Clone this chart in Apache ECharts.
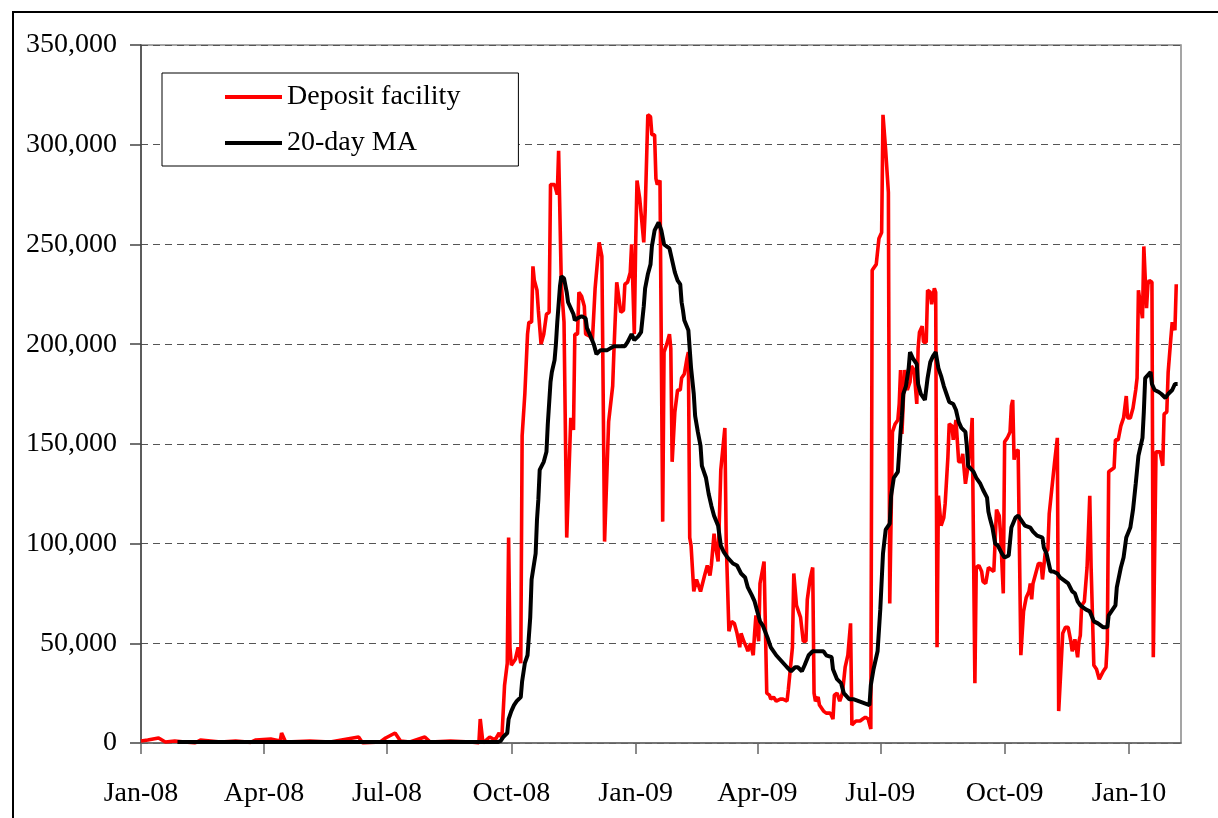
<!DOCTYPE html>
<html>
<head>
<meta charset="utf-8">
<title>Deposit facility</title>
<script src="https://cdn.jsdelivr.net/npm/echarts@6/dist/echarts.min.js"></script>
<style>
  html, body { margin: 0; padding: 0; background: #fff; }
  #chart { width: 1218px; height: 818px; }
</style>
</head>
<body>
<div id="chart"></div>
<script>
// days counted from 1 Jan 2008
const startDate = Date.UTC(2008, 0, 1);
const dayMs = 86400000;

const quarterTicks = ['2008-01-01', '2008-04-01', '2008-07-01', '2008-10-01', '2009-01-01',
    '2009-04-01', '2009-07-01', '2009-10-01', '2010-01-01'];
const quarterLabels = ['Jan-08', 'Apr-08', 'Jul-08', 'Oct-08', 'Jan-09', 'Apr-09', 'Jul-09', 'Oct-09', 'Jan-10'];

const depositDays = [0, 5, 13, 18, 25, 40, 44, 59, 70, 81, 85, 96, 103, 104, 107, 125, 140, 161, 164, 177,
    181, 188, 192, 199, 210, 214, 229, 244, 250, 251, 253, 258, 262, 265, 267,
    269, 271, 272, 273, 274, 277, 279, 281, 282, 284, 286, 287, 289, 290, 291, 293, 294, 296, 298, 300,
    302, 303, 306, 308, 309, 310, 311, 313, 315, 318, 320, 321, 323, 324, 326, 328, 329, 332, 334, 336,
    339, 341, 343, 346, 349, 350, 352, 355, 357, 358, 360, 362, 363, 365, 366, 367, 369, 372, 373, 375,
    377, 378, 380, 381, 382, 384, 386, 387, 389, 391, 392, 393, 395, 397, 399, 400, 402, 404, 405, 406,
    407, 409, 411, 412, 414, 417, 419, 421, 422, 424, 425, 427, 429, 432, 433, 435, 437, 439, 441, 443,
    444, 446, 448, 449, 451, 453, 454, 455, 457, 458, 461, 463, 465, 466, 468, 470, 473, 475, 478, 479,
    482, 483, 485, 488, 490, 492, 493, 495, 497, 498, 499, 501, 502, 505, 507, 510, 512, 513, 515, 517,
    519, 521, 523, 525, 526, 527, 529, 532, 534, 536, 538, 540, 541, 544, 545, 546, 548, 549, 551, 553,
    554, 556, 558, 560, 561, 562, 563, 565, 567, 569, 570, 572, 574, 575, 576, 578, 579, 581, 582, 584,
    585, 587, 588, 589, 590, 592, 594, 595, 597, 598, 600, 601, 603, 605, 607, 608, 610, 612, 614, 615,
    617, 618, 620, 622, 623, 625, 627, 628, 631, 633, 635, 636, 638, 639, 641, 643, 644, 645, 646, 647,
    649, 650, 651, 653, 655, 657, 658, 659, 660, 662, 664, 666, 667, 669, 671, 672, 674, 676, 678, 679,
    681, 682, 684, 686, 688, 689, 691, 693, 694, 695, 696, 698, 700, 702, 703, 705, 707, 709, 710, 712,
    714, 715, 716, 718, 720, 721, 723, 725, 727, 728, 729, 730, 732, 734, 736, 737, 738, 739, 741, 742,
    744, 745, 746, 748, 749, 751, 752, 754, 756, 757, 759, 760, 762, 763, 765, 766];
const depositValues = [1000, 1500, 2500, 500, 1000, 0, 1500, 500, 1000, 300, 1500, 2000, 1000, 5000, 500, 1000, 500, 3000, 0, 500,
    2500, 5000, 1000, 500, 3000, 500, 1000, 500, 0, 12000, 0, 3000, 1500, 5000, 2500,
    29000, 40000, 103000, 48000, 39000, 42000, 48000, 40000, 154000, 175000, 205000, 211000, 211000, 239000, 232000, 227000, 217000, 200000, 205000, 215000,
    216000, 280000, 280000, 275000, 297000, 298000, 230000, 211000, 103000, 163000, 157000, 205000, 205000, 226000, 224000, 219000, 205000, 204000, 202000, 228000,
    251000, 244000, 101000, 161000, 179000, 198000, 231000, 216000, 217000, 230000, 231000, 236000, 250000, 205000, 250000, 282000, 273000, 251000, 266000, 315000,
    314000, 305000, 305000, 283000, 280000, 282000, 111000, 196000, 200000, 205000, 198000, 141000, 166000, 177000, 177000, 183000, 185000, 193000, 196000, 103000,
    99000, 76000, 82000, 83000, 76000, 84000, 89000, 84000, 89000, 105000, 99000, 91000, 137000, 158000, 101000, 56000, 61000, 60000, 55000, 48000,
    55000, 51000, 48000, 46000, 50000, 44000, 55000, 64000, 51000, 80000, 91000, 25000, 24000, 22000, 23000, 21000, 22000, 22000, 21000, 27000,
    48000, 85000, 69000, 63000, 51000, 51000, 72000, 82000, 88000, 25000, 21000, 23000, 19000, 16000, 15000, 15000, 12000, 24000, 25000, 21000,
    25000, 38000, 44000, 60000, 9000, 8000, 11000, 11000, 12000, 13000, 12000, 7000, 237000, 240000, 241000, 253000, 256000, 315000, 297000, 276000,
    70000, 156000, 160000, 162000, 170000, 187000, 155000, 187000, 177000, 181000, 189000, 187000, 170000, 198000, 206000, 209000, 201000, 201000, 227000, 226000,
    220000, 228000, 226000, 48000, 124000, 109000, 113000, 120000, 143000, 160000, 159000, 152000, 162000, 141000, 141000, 145000, 130000, 139000, 152000, 163000,
    30000, 88000, 89000, 86000, 81000, 80000, 88000, 87000, 86000, 117000, 114000, 105000, 75000, 151000, 153000, 156000, 169000, 172000, 142000, 146000,
    147000, 147000, 44000, 66000, 73000, 76000, 80000, 72000, 80000, 85000, 90000, 90000, 82000, 95000, 97000, 115000, 128000, 141000, 153000, 16000,
    42000, 55000, 58000, 58000, 51000, 46000, 52000, 43000, 51000, 54000, 69000, 71000, 88000, 124000, 88000, 39000, 37000, 32000, 32000, 36000,
    38000, 51000, 136000, 137000, 138000, 152000, 152000, 159000, 163000, 163000, 174000, 163000, 163000, 168000, 177000, 183000, 227000, 226000, 213000, 249000,
    218000, 230000, 232000, 231000, 43000, 146000, 146000, 146000, 139000, 165000, 166000, 186000, 203000, 211000, 207000, 230000];

const maDays = [27, 100, 200, 264, 266, 268, 271, 272, 274, 276, 278, 281, 282, 284, 286, 288, 289, 292, 293, 294,
    295, 298, 300, 301, 303, 304, 306, 307, 308, 310, 311, 313, 315, 316, 318, 320, 321, 323, 326, 329,
    330, 332, 335, 337, 340, 345, 350, 358, 360, 363, 365, 368, 370, 372, 373, 375, 377, 378, 380, 383,
    385, 387, 391, 393, 395, 397, 399, 400, 401, 402, 405, 407, 409, 410, 412, 414, 415, 418, 420, 422,
    424, 427, 429, 431, 434, 438, 441, 444, 447, 449, 452, 454, 456, 458, 460, 464, 466, 470, 474, 478,
    481, 484, 486, 489, 491, 494, 497, 501, 505, 507, 511, 512, 515, 518, 520, 524, 527, 531, 535, 539,
    540, 542, 545, 547, 549, 551, 554, 555, 557, 560, 562, 563, 564, 566, 568, 569, 571, 574, 575, 577,
    580, 582, 584, 586, 588, 590, 592, 594, 596, 598, 601, 603, 605, 607, 610, 611, 612, 616, 618, 621,
    623, 626, 627, 628, 630, 632, 634, 637, 639, 642, 644, 647, 649, 652, 654, 658, 660, 663, 667, 668,
    670, 673, 675, 678, 680, 684, 686, 689, 691, 693, 695, 699, 702, 705, 708, 712, 715, 716, 718, 721,
    722, 725, 727, 729, 732, 734, 736, 738, 741, 742, 743, 744, 747, 748, 750, 753, 755, 758, 760, 763,
    765, 767];
const maValues = [500, 500, 500, 500, 1000, 3000, 5000, 12000, 16000, 19000, 21000, 23000, 31000, 40000, 44000, 63000, 82000, 95000, 112000, 122000,
    137000, 141000, 146000, 160000, 181000, 186000, 192000, 200000, 211000, 229000, 234000, 233000, 226000, 221000, 218000, 215000, 212000, 213000, 214000, 213000,
    208000, 205000, 200000, 195000, 197000, 197000, 199000, 199000, 201000, 205000, 202000, 204000, 206000, 219000, 228000, 235000, 240000, 249000, 257000, 261000,
    257000, 250000, 248000, 242000, 236000, 232000, 230000, 221000, 217000, 212000, 207000, 188000, 175000, 164000, 156000, 149000, 139000, 133000, 125000, 119000,
    114000, 109000, 99000, 96000, 93000, 90000, 89000, 85000, 83000, 78000, 74000, 71000, 66000, 61000, 59000, 52000, 48000, 44000, 41000, 38000,
    36000, 38000, 38000, 36000, 39000, 44000, 46000, 46000, 46000, 44000, 43000, 37000, 32000, 30000, 25000, 22000, 22000, 21000, 20000, 19000,
    29000, 37000, 46000, 67000, 95000, 107000, 110000, 124000, 133000, 136000, 156000, 164000, 175000, 179000, 188000, 196000, 193000, 190000, 180000, 175000,
    172000, 183000, 191000, 194000, 196000, 188000, 184000, 179000, 175000, 171000, 170000, 167000, 161000, 158000, 156000, 149000, 139000, 136000, 133000, 130000,
    127000, 123000, 116000, 113000, 108000, 100000, 99000, 95000, 93000, 94000, 108000, 113000, 114000, 111000, 109000, 108000, 106000, 104000, 103000, 98000,
    95000, 86000, 86000, 85000, 83000, 81000, 80000, 76000, 75000, 71000, 69000, 67000, 66000, 61000, 60000, 58000, 58000, 64000, 66000, 69000,
    78000, 88000, 93000, 103000, 108000, 117000, 130000, 144000, 153000, 166000, 183000, 183000, 186000, 180000, 177000, 176000, 175000, 173000, 175000, 177000,
    180000, 180000];

const axisEnd = startDate + 769.5 * dayMs;
const tickTimes = quarterTicks.map(d => Date.parse(d + 'T00:00:00Z'));

function toPoints(days, values) {
    return days.map((d, i) => [startDate + d * dayMs, values[i]]);
}

const font = 'Liberation Serif';
const chart = echarts.init(document.getElementById('chart'), null, { renderer: 'canvas' });

chart.setOption({
    animation: false,
    backgroundColor: '#fff',
    textStyle: { fontFamily: font },
    grid: {
        left: 141, top: 45, right: 37, bottom: 75,
        show: true, borderColor: '#888', borderWidth: 1.5, backgroundColor: 'transparent'
    },
    graphic: [{
        type: 'rect',
        shape: { x: 13, y: 12, width: 1300, height: 900 },
        style: { fill: 'none', stroke: '#000', lineWidth: 2 },
        silent: true
    }],
    legend: {
        orient: 'vertical',
        left: 162, top: 73,
        padding: [10, 58, 9, 63],
        itemGap: 18,
        itemWidth: 57,
        itemHeight: 4,
        icon: 'rect',
        backgroundColor: '#fff',
        borderColor: '#000',
        borderWidth: 1,
        textStyle: { fontFamily: font, fontSize: 28, color: '#000' },
        data: ['Deposit facility', '20-day MA']
    },
    xAxis: {
        type: 'value',
        min: startDate,
        max: axisEnd,
        axisLine: { lineStyle: { color: '#666', width: 1.5 } },
        axisTick: { show: true, customValues: tickTimes, length: 11, inside: false, lineStyle: { color: '#666', width: 1.5 } },
        axisLabel: {
            customValues: tickTimes,
            margin: 37,
            fontFamily: font, fontSize: 28, color: '#000',
            formatter: function (val) {
                const i = tickTimes.indexOf(val);
                return i >= 0 ? quarterLabels[i] : '';
            }
        },
        splitLine: { show: false }
    },
    yAxis: {
        type: 'value',
        min: 0, max: 350000, interval: 50000,
        axisLine: { show: true, lineStyle: { color: '#444', width: 1.5 } },
        axisTick: { show: true, length: 11, lineStyle: { color: '#444', width: 1.5 } },
        axisLabel: {
            margin: 24,
            fontFamily: font, fontSize: 28, color: '#000',
            formatter: v => v.toLocaleString('en-US')
        },
        splitLine: { show: true, lineStyle: { color: '#555', width: 1, type: [7, 5] } }
    },
    series: [{
        name: 'Deposit facility',
        type: 'line',
        symbol: 'none',
        data: toPoints(depositDays, depositValues),
        lineStyle: { color: '#ff0000', width: 3.6 },
        itemStyle: { color: '#ff0000' },
        z: 2
    }, {
        name: '20-day MA',
        type: 'line',
        symbol: 'none',
        data: toPoints(maDays, maValues),
        lineStyle: { color: '#000', width: 4 },
        itemStyle: { color: '#000' },
        z: 3
    }]
});
</script>
</body>
</html>
